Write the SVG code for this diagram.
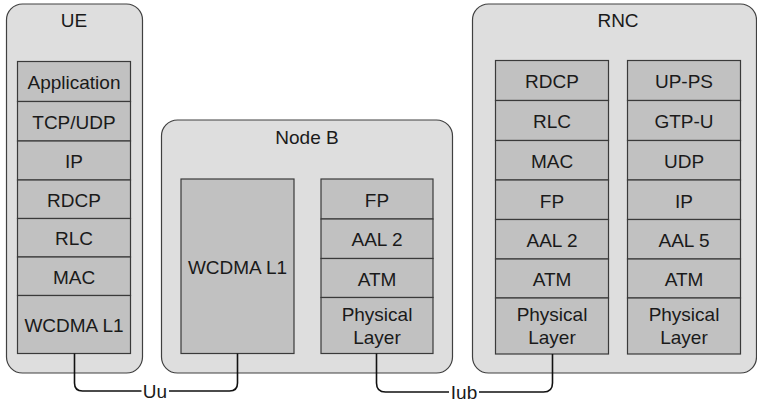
<svg xmlns="http://www.w3.org/2000/svg" width="757" height="402" viewBox="0 0 757 402">
<style>
.outer{fill:#dedede;stroke:#404040;stroke-width:1.2}
.layer{fill:#c1c1c1;stroke:#3a3a3a;stroke-width:1.2}
text{font-family:"Liberation Sans",Arial,sans-serif;font-size:19px;fill:#1a1a1a;text-anchor:middle}
.conn{fill:none;stroke:#111;stroke-width:1.6}
</style>
<rect width="757" height="402" fill="#ffffff"/>
<g id="ue">
<rect class="outer" x="6.5" y="4" width="136" height="369" rx="16"/>
<text x="74" y="27.2">UE</text>
<rect class="layer" x="17.5" y="61.5" width="113" height="40"/>
<rect class="layer" x="17.5" y="101.5" width="113" height="39.5"/>
<rect class="layer" x="17.5" y="141" width="113" height="39"/>
<rect class="layer" x="17.5" y="180" width="113" height="38.5"/>
<rect class="layer" x="17.5" y="218.5" width="113" height="38.5"/>
<rect class="layer" x="17.5" y="257" width="113" height="38.5"/>
<rect class="layer" x="17.5" y="295.5" width="113" height="58"/>
<text x="74" y="89">Application</text>
<text x="74" y="128.8">TCP/UDP</text>
<text x="74" y="168">IP</text>
<text x="74" y="206.8">RDCP</text>
<text x="74" y="245.3">RLC</text>
<text x="74" y="283.8">MAC</text>
<text x="74" y="332">WCDMA L1</text>
</g>
<g id="nodeb">
<rect class="outer" x="161.5" y="120" width="291" height="253" rx="16"/>
<text x="307" y="144">Node B</text>
<rect class="layer" x="181" y="179" width="113" height="174.5"/>
<text x="237.5" y="273.5">WCDMA L1</text>
<rect class="layer" x="321" y="179" width="112" height="40"/>
<rect class="layer" x="321" y="219" width="112" height="39.5"/>
<rect class="layer" x="321" y="258.5" width="112" height="39"/>
<rect class="layer" x="321" y="297.5" width="112" height="56"/>
<text x="377" y="206.5">FP</text>
<text x="377" y="246.3">AAL 2</text>
<text x="377" y="285.5">ATM</text>
<text x="377" y="320.5">Physical</text>
<text x="377" y="344">Layer</text>
</g>
<g id="rnc">
<rect class="outer" x="472.5" y="4" width="284" height="369" rx="16"/>
<text x="618" y="27">RNC</text>
<g id="rnc-cp">
<rect class="layer" x="495.5" y="60.5" width="113" height="40"/>
<rect class="layer" x="495.5" y="100.5" width="113" height="40"/>
<rect class="layer" x="495.5" y="140.5" width="113" height="39.5"/>
<rect class="layer" x="495.5" y="180" width="113" height="39.5"/>
<rect class="layer" x="495.5" y="219.5" width="113" height="39.5"/>
<rect class="layer" x="495.5" y="259" width="113" height="39"/>
<rect class="layer" x="495.5" y="298" width="113" height="56"/>
<text x="552" y="88.2">RDCP</text>
<text x="552" y="128.2">RLC</text>
<text x="552" y="168">MAC</text>
<text x="552" y="207.5">FP</text>
<text x="552" y="247">AAL 2</text>
<text x="552" y="286.2">ATM</text>
<text x="552" y="321">Physical</text>
<text x="552" y="344.3">Layer</text>
</g>
<g id="rnc-up">
<rect class="layer" x="627.5" y="60.5" width="113" height="40"/>
<rect class="layer" x="627.5" y="100.5" width="113" height="40"/>
<rect class="layer" x="627.5" y="140.5" width="113" height="39.5"/>
<rect class="layer" x="627.5" y="180" width="113" height="39.5"/>
<rect class="layer" x="627.5" y="219.5" width="113" height="39.5"/>
<rect class="layer" x="627.5" y="259" width="113" height="39"/>
<rect class="layer" x="627.5" y="298" width="113" height="56"/>
<text x="684" y="88.2">UP-PS</text>
<text x="684" y="128.2">GTP-U</text>
<text x="684" y="168">UDP</text>
<text x="684" y="207.5">IP</text>
<text x="684" y="247">AAL 5</text>
<text x="684" y="286.2">ATM</text>
<text x="684" y="321">Physical</text>
<text x="684" y="344.3">Layer</text>
</g>
</g>
<g id="connectors">
<path class="conn" d="M74.5,353.5 V383 Q74.5,391 82.5,391 H141.5"/>
<path class="conn" d="M169,391 H229.5 Q237.5,391 237.5,383 V353.5"/>
<text x="155" y="398">Uu</text>
<path class="conn" d="M376.5,353.5 V383 Q376.5,392 385.5,392 H449"/>
<path class="conn" d="M479,392 H543.5 Q552.5,392 552.5,383 V354"/>
<text x="464" y="399">Iub</text>
</g>
</svg>
